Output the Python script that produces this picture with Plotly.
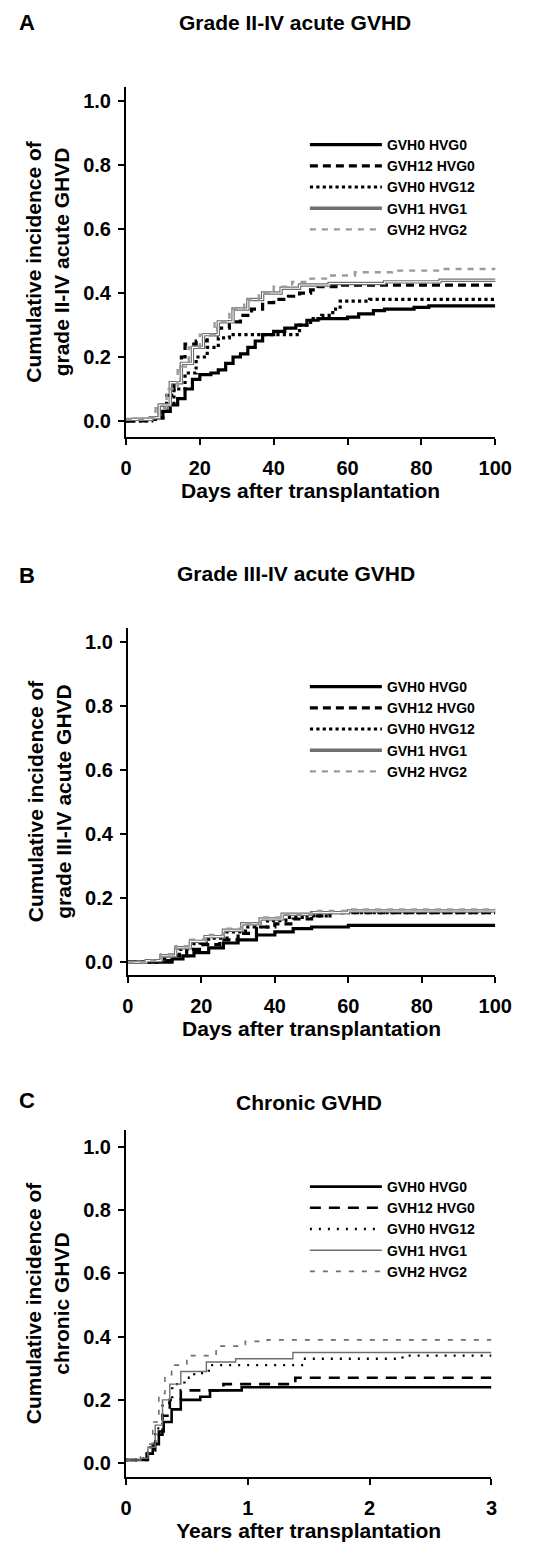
import plotly.graph_objects as go

# The page body has an 8px default margin, so the figure is drawn 8px in from
# the top-left corner of the window; geometry below is given in window pixels.
WIN_W, WIN_H = 541, 1544
OFF = 8
W, H = WIN_W - OFF, WIN_H - OFF
FONT = "Liberation Sans"

series_names = ["GVH0 HVG0", "GVH12 HVG0", "GVH0 HVG12", "GVH1 HVG1", "GVH2 HVG2"]
panel_letters = ["A", "B", "C"]
panel_titles = ["Grade II-IV acute GVHD", "Grade III-IV acute GVHD", "Chronic GVHD"]
y_titles = ["Cumulative incidence of<br>grade II-IV acute GHVD",
            "Cumulative incidence of<br>grade III-IV acute GHVD",
            "Cumulative incidence of<br>chronic GHVD"]
x_titles = ["Days after transplantation", "Days after transplantation", "Years after transplantation"]
y_ticks = [0.0, 0.2, 0.4, 0.6, 0.8, 1.0]
x_ticks_days = [0, 20, 40, 60, 80, 100]
x_ticks_years = [0, 1, 2, 3]

# ---- Panel A: grade II-IV acute GVHD (days) ----
a_t0 = [0, 2, 8, 10, 12, 14, 16, 18, 20, 23, 25, 27, 29, 31, 33, 35, 37, 40, 43, 46, 49, 52, 60, 63, 67, 70, 78, 82, 100]
a_y0 = [0, 0.005, 0.01, 0.03, 0.05, 0.07, 0.10, 0.13, 0.145, 0.15, 0.16, 0.18, 0.20, 0.21, 0.23, 0.25, 0.27, 0.28, 0.29, 0.30, 0.315, 0.32, 0.325, 0.335, 0.345, 0.35, 0.355, 0.36, 0.36]
a_t1 = [0, 6, 9, 11, 13, 15, 16, 19, 22, 25, 28, 31, 34, 37, 40, 44, 47, 50, 52, 58, 100]
a_y1 = [0, 0.01, 0.04, 0.08, 0.12, 0.20, 0.24, 0.25, 0.27, 0.29, 0.31, 0.33, 0.35, 0.37, 0.38, 0.39, 0.40, 0.41, 0.42, 0.425, 0.425]
a_t2 = [0, 7, 10, 13, 16, 19, 22, 25, 28, 45, 47, 50, 53, 56, 58, 66, 100]
a_y2 = [0, 0.01, 0.05, 0.10, 0.15, 0.20, 0.23, 0.26, 0.27, 0.27, 0.30, 0.32, 0.33, 0.35, 0.375, 0.38, 0.38]
a_t3 = [0, 7, 9, 12, 15, 18, 21, 25, 29, 33, 37, 42, 47, 55, 70, 85, 100]
a_y3 = [0.005, 0.01, 0.05, 0.12, 0.18, 0.23, 0.27, 0.31, 0.35, 0.38, 0.40, 0.415, 0.425, 0.43, 0.435, 0.44, 0.445]
a_t4 = [0, 6, 8, 11, 14, 17, 20, 24, 28, 32, 36, 40, 45, 50, 55, 62, 72, 85, 100]
a_y4 = [0.005, 0.01, 0.04, 0.10, 0.17, 0.23, 0.27, 0.31, 0.35, 0.38, 0.40, 0.42, 0.435, 0.445, 0.455, 0.465, 0.47, 0.475, 0.48]

# ---- Panel B: grade III-IV acute GVHD (days) ----
b_t0 = [0, 10, 12, 15, 18, 22, 26, 30, 35, 40, 45, 50, 60, 100]
b_y0 = [0, 0.0, 0.01, 0.02, 0.03, 0.045, 0.06, 0.07, 0.085, 0.095, 0.105, 0.11, 0.115, 0.115]
b_t1 = [0, 8, 12, 16, 20, 25, 30, 35, 40, 45, 50, 55, 100]
b_y1 = [0, 0.005, 0.02, 0.04, 0.055, 0.07, 0.09, 0.11, 0.12, 0.135, 0.145, 0.155, 0.155]
b_t2 = [0, 6, 10, 14, 18, 22, 27, 32, 38, 43, 48, 55, 100]
b_y2 = [0, 0.005, 0.02, 0.04, 0.06, 0.075, 0.095, 0.11, 0.13, 0.14, 0.145, 0.155, 0.155]
b_t3 = [0, 5, 9, 13, 17, 21, 26, 31, 36, 42, 50, 60, 100]
b_y3 = [0, 0.005, 0.02, 0.045, 0.065, 0.08, 0.10, 0.12, 0.135, 0.15, 0.155, 0.16, 0.16]
b_t4 = [0, 5, 9, 13, 17, 21, 26, 31, 36, 42, 50, 60, 100]
b_y4 = [0, 0.005, 0.025, 0.05, 0.07, 0.085, 0.105, 0.12, 0.14, 0.15, 0.16, 0.165, 0.168]

# ---- Panel C: chronic GVHD (years) ----
c_t0 = [0, 0.12, 0.17, 0.22, 0.27, 0.31, 0.375, 0.45, 0.61, 0.69, 0.95, 3]
c_y0 = [0.01, 0.01, 0.03, 0.06, 0.10, 0.13, 0.17, 0.20, 0.21, 0.23, 0.24, 0.24]
c_t1 = [0, 0.12, 0.18, 0.24, 0.30, 0.36, 0.45, 0.80, 1.39, 3]
c_y1 = [0.01, 0.01, 0.04, 0.09, 0.15, 0.20, 0.23, 0.25, 0.27, 0.27]
c_t2 = [0, 0.12, 0.18, 0.24, 0.30, 0.38, 0.48, 0.56, 0.68, 1.46, 2.27, 3]
c_y2 = [0.01, 0.015, 0.05, 0.11, 0.19, 0.25, 0.27, 0.285, 0.31, 0.33, 0.34, 0.34]
c_t3 = [0, 0.12, 0.18, 0.24, 0.30, 0.36, 0.45, 0.66, 0.90, 1.37, 3]
c_y3 = [0.01, 0.015, 0.05, 0.12, 0.20, 0.25, 0.29, 0.32, 0.33, 0.35, 0.35]
c_t4 = [0, 0.12, 0.18, 0.22, 0.27, 0.32, 0.375, 0.50, 0.74, 0.98, 1.16, 3]
c_y4 = [0.01, 0.02, 0.06, 0.13, 0.22, 0.28, 0.31, 0.34, 0.37, 0.385, 0.39, 0.39]

panels = [
    [(a_t0, a_y0), (a_t1, a_y1), (a_t2, a_y2), (a_t3, a_y3), (a_t4, a_y4)],
    [(b_t0, b_y0), (b_t1, b_y1), (b_t2, b_y2), (b_t3, b_y3), (b_t4, b_y4)],
    [(c_t0, c_y0), (c_t1, c_y1), (c_t2, c_y2), (c_t3, c_y3), (c_t4, c_y4)],
]

styles_thick = [
    dict(color="black", width=3.2, dash="solid"),
    dict(color="black", width=3.2, dash="8px,5px"),
    dict(color="black", width=3.2, dash="dot"),
    dict(color="#6f6f6f", width=3.4, dash="solid"),
    dict(color="#9a9a9a", width=2.4, dash="6px,6px"),
]
styles_thin = [
    dict(color="black", width=2.6, dash="solid"),
    dict(color="black", width=2.6, dash="11px,8px"),
    dict(color="black", width=2.4, dash="2px,7px"),
    dict(color="#6e6e6e", width=1.4, dash="solid"),
    dict(color="#6e6e6e", width=1.6, dash="5px,8px"),
]

def px_x(p):
    return (p - OFF) / W

def px_y(p):
    return 1 - (p - OFF) / H

geo = [
    dict(x0=125, x1=511, top=87, bot=437, yr=[-0.05, 1.044], xr=[0, 100], xt=x_ticks_days,
         title_y=22, letter_y=22, title_x=302, leg_y=129),
    dict(x0=127, x1=511, top=628, bot=975, yr=[-0.04, 1.044], xr=[0, 100], xt=x_ticks_days,
         title_y=574, letter_y=575, title_x=303, leg_y=671),
    dict(x0=125, x1=507, top=1130, bot=1477, yr=[-0.044, 1.054], xr=[0, 3], xt=x_ticks_years,
         title_y=1102, letter_y=1100, title_x=316, leg_y=1171),
]

fig = go.Figure()
legend_keys = ["legend", "legend2", "legend3"]
for p, series in enumerate(panels):
    sty = styles_thin if p == 2 else styles_thick
    suffix = "" if p == 0 else str(p + 1)
    for i, (t, y) in enumerate(series):
        fig.add_trace(go.Scatter(
            x=t, y=y, mode="lines", line_shape="hv",
            line=sty[i], name=series_names[i],
            xaxis="x" + suffix, yaxis="y" + suffix,
            legend=legend_keys[p], showlegend=True,
        ))
        if p < 2 and i == 3:
            # hollow "double line" look of the GVH1 HVG1 curve
            fig.add_trace(go.Scatter(
                x=t, y=y, mode="lines", line_shape="hv",
                line=dict(color="white", width=1.1), name=series_names[i],
                xaxis="x" + suffix, yaxis="y" + suffix,
                legend=legend_keys[p], showlegend=False, hoverinfo="skip",
            ))

axis_common = dict(
    showline=True, linewidth=2, linecolor="black", mirror=False,
    ticks="outside", ticklen=6, tickwidth=2, tickcolor="black",
    showgrid=False, zeroline=False,
    tickfont=dict(family=FONT, size=20, color="black", weight="bold"),
)

layout = dict(
    width=W, height=H, margin=dict(l=0, r=0, t=0, b=0),
    paper_bgcolor="white", plot_bgcolor="white",
    showlegend=True, annotations=[],
)

for p, g in enumerate(geo):
    suffix = "" if p == 0 else str(p + 1)
    layout["xaxis" + suffix] = dict(
        axis_common,
        domain=[px_x(g["x0"]), px_x(g["x1"])],
        range=g["xr"], tickvals=g["xt"], anchor="y" + suffix,
        ticklabelstandoff=6,
        title=dict(text=x_titles[p], standoff=4,
                   font=dict(family=FONT, size=21, color="black", weight="bold")),
    )
    layout["yaxis" + suffix] = dict(
        axis_common,
        domain=[px_y(g["bot"]), px_y(g["top"])],
        range=g["yr"], tickvals=y_ticks, tickformat=".1f", anchor="x" + suffix,
        ticklabelstandoff=3,
        title=dict(text=y_titles[p], standoff=8,
                   font=dict(family=FONT, size=21, color="black", weight="bold")),
    )
    layout[legend_keys[p]] = dict(
        x=px_x(312), xanchor="left", y=px_y(g["leg_y"]), yanchor="top",
        bgcolor="rgba(0,0,0,0)", borderwidth=0, itemwidth=72,
        tracegroupgap=0, itemclick=False,
        font=dict(family=FONT, size=14, color="black", weight="bold"),
    )
    layout["annotations"].append(dict(
        text=panel_letters[p], x=px_x(22), y=px_y(g["letter_y"]),
        xref="paper", yref="paper", showarrow=False, xanchor="center", yanchor="middle",
        font=dict(family=FONT, size=22, color="black", weight="bold")))
    layout["annotations"].append(dict(
        text=panel_titles[p], x=px_x(g["title_x"]), y=px_y(g["title_y"]),
        xref="paper", yref="paper", showarrow=False, xanchor="center", yanchor="middle",
        font=dict(family=FONT, size=21, color="black", weight="bold")))

fig.update_layout(layout)
fig.write_html("out.html")
